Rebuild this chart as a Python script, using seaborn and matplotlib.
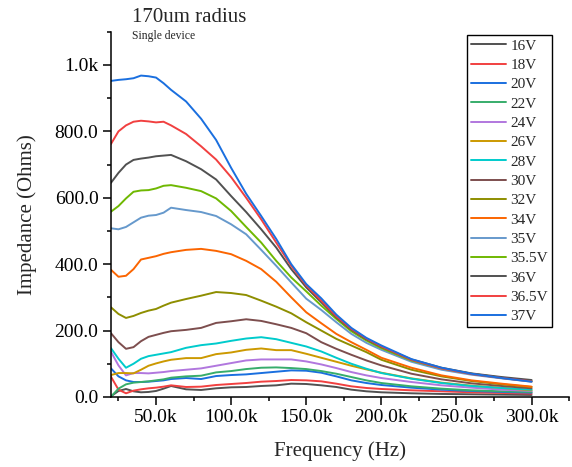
import matplotlib
matplotlib.use("Agg")
import matplotlib.pyplot as plt
import matplotlib.ticker as mticker
import seaborn as sns
import pandas as pd

# frequency points (Hz)
freq_khz = [20, 25, 30, 35, 40, 45, 50, 55, 60, 70, 80, 90, 100, 110, 120, 130,
            140, 150, 160, 170, 180, 190, 200, 220, 240, 260, 280, 300]
freqs = [f * 1000 for f in freq_khz]

v16 = [2, 18, 24, 17, 14, 15, 18, 25, 33, 23, 21, 26, 29, 30, 33, 35, 40, 39, 35, 30, 22, 17, 14, 11, 9, 8, 7, 6]
v18 = [61, 22, 11, 19, 23, 26, 28, 31, 35, 30, 31, 36, 39, 42, 46, 48, 51, 50, 47, 40, 32, 27, 24, 20, 17, 14, 12, 10]
v20 = [86, 62, 50, 45, 45, 46, 48, 50, 54, 57, 54, 63, 66, 68, 72, 76, 80, 79, 73, 62, 50, 42, 36, 28, 22, 18, 15, 13]
v22 = [1, 25, 38, 43, 45, 47, 50, 53, 58, 62, 64, 74, 78, 84, 88, 89, 87, 84, 78, 70, 60, 50, 42, 32, 25, 20, 17, 15]
v24 = [136, 95, 65, 72, 72, 71, 73, 75, 78, 82, 86, 94, 102, 110, 113, 113, 113, 107, 98, 87, 75, 65, 57, 45, 35, 28, 22, 18]
v26 = [66, 72, 72, 71, 82, 94, 101, 107, 112, 117, 117, 129, 134, 142, 146, 141, 141, 130, 118, 106, 94, 83, 73, 56, 43, 34, 27, 20]
v28 = [147, 115, 88, 100, 115, 123, 127, 131, 135, 148, 156, 161, 169, 176, 180, 174, 163, 152, 137, 118, 100, 85, 72, 55, 42, 33, 27, 22]
v30 = [192, 165, 145, 150, 168, 181, 187, 193, 198, 202, 208, 223, 228, 234, 229, 219, 208, 192, 165, 145, 127, 110, 95, 70, 53, 41, 33, 26]
v32 = [270, 250, 238, 244, 253, 260, 265, 275, 284, 295, 305, 316, 313, 307, 290, 272, 252, 225, 200, 175, 155, 135, 112, 82, 62, 48, 38, 30]
v34 = [383, 362, 365, 385, 414, 419, 424, 431, 436, 443, 446, 440, 430, 410, 385, 347, 300, 255, 222, 190, 165, 142, 118, 88, 65, 50, 40, 31]
v35 = [508, 505, 512, 526, 540, 546, 548, 555, 570, 563, 557, 545, 520, 490, 443, 395, 345, 296, 262, 225, 190, 163, 142, 106, 82, 67, 56, 46]
v355 = [558, 575, 598, 618, 622, 623, 628, 636, 638, 630, 620, 598, 560, 512, 465, 410, 360, 318, 275, 235, 198, 170, 147, 110, 86, 70, 58, 48]
v36 = [645, 675, 700, 714, 718, 721, 725, 727, 729, 710, 686, 655, 605, 557, 505, 450, 385, 330, 285, 240, 203, 174, 151, 113, 88, 71, 60, 51]
v365 = [762, 800, 818, 829, 832, 830, 827, 829, 818, 792, 755, 715, 662, 600, 535, 465, 395, 336, 290, 243, 205, 176, 152, 112, 86, 69, 57, 47]
v37 = [952, 955, 957, 960, 968, 966, 962, 945, 925, 890, 838, 774, 690, 612, 545, 476, 400, 340, 297, 248, 208, 178, 155, 114, 88, 70, 57, 46]

labels = ["16V", "18V", "20V", "22V", "24V", "26V", "28V", "30V", "32V",
          "34V", "35V", "35.5V", "36V", "36.5V", "37V"]
series = [v16, v18, v20, v22, v24, v26, v28, v30, v32, v34, v35, v355, v36, v365, v37]
colors = ["#515151", "#F14040", "#1A6FDF", "#37AD6B", "#B177DE", "#CC9900",
          "#00CBCC", "#7D4E4E", "#8E8E00", "#FB6501", "#6699CC", "#6FB802",
          "#515151", "#F14040", "#1A6FDF"]

sns.set_theme(style="ticks")
plt.rcParams["font.family"] = ["Liberation Serif", "DejaVu Serif"]
plt.rcParams["axes.linewidth"] = 1.1

fig = plt.figure(figsize=(5.72, 4.67), dpi=100)
ax = fig.add_axes([0.194, 0.150, 0.801, 0.782])

for lab, vals, col in zip(labels, series, colors):
    df = pd.DataFrame({"Frequency": freqs, "Impedance": vals})
    sns.lineplot(data=df, x="Frequency", y="Impedance", color=col, label=lab,
                 linewidth=1.4, ax=ax)

ax.set_xlim(20000, 325000)
ax.set_ylim(0, 1100)

def fmt(v, pos):
    if abs(v) >= 1000:
        return f"{v/1000:.1f}k"
    return f"{v:.1f}"

ax.xaxis.set_major_locator(mticker.FixedLocator([50000, 100000, 150000, 200000, 250000, 300000]))
ax.xaxis.set_minor_locator(mticker.MultipleLocator(25000))
ax.yaxis.set_major_locator(mticker.MultipleLocator(200))
ax.yaxis.set_minor_locator(mticker.MultipleLocator(100))
ax.xaxis.set_major_formatter(mticker.FuncFormatter(fmt))
ax.yaxis.set_major_formatter(mticker.FuncFormatter(fmt))

ax.tick_params(axis="both", which="major", direction="out", length=5.5, width=1.1,
               labelsize=14, colors="black")
ax.tick_params(axis="both", which="minor", direction="out", length=3, width=1.1,
               colors="black")
sns.despine(ax=ax)
for s in ["left", "bottom"]:
    ax.spines[s].set_color("black")

ax.set_xlabel("Frequency (Hz)", fontsize=15, labelpad=11)
ax.set_ylabel("Impedance (Ohms)", fontsize=15, labelpad=13)

leg = ax.legend(loc="upper right", bbox_to_anchor=(0.965, 0.925),
                bbox_transform=fig.transFigure, fontsize=11, frameon=True,
                fancybox=False, shadow=False, framealpha=1, edgecolor="black",
                handlelength=2.3, handletextpad=0.3, labelspacing=0.37,
                borderpad=0.25, borderaxespad=0)
leg.get_frame().set_linewidth(1.0)

fig.text(0.231, 0.963, "170um radius", fontsize=15, ha="left", va="center")
fig.text(0.231, 0.922, "Single device", fontsize=8.4, ha="left", va="center")

fig.savefig("out.png", dpi=100)
